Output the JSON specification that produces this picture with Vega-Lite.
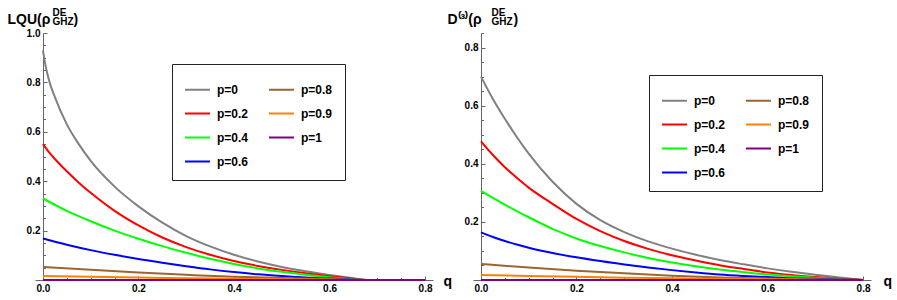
{
  "$schema": "https://vega.github.io/schema/vega-lite/v6.json",
  "padding": {"left": 7, "top": 7, "right": 4, "bottom": 4},
  "background": "white",
  "config": {
    "font": "Liberation Sans",
    "view": {"stroke": null},
    "axis": {
      "grid": false,
      "domainColor": "#666666",
      "domainWidth": 1,
      "tickColor": "#666666",
      "tickWidth": 1,
      "labelFont": "Liberation Sans",
      "labelFontSize": 10,
      "labelFontWeight": "bold",
      "labelColor": "black",
      "labelFlush": false,
      "labelOverlap": false,
      "titleFont": "Liberation Sans",
      "titleFontWeight": "bold",
      "titleColor": "black",
      "titleAngle": 0,
      "titleAlign": "left",
      "titleBaseline": "alphabetic"
    },
    "legend": {
      "orient": "none",
      "columns": 2,
      "symbolType": "stroke",
      "symbolSize": 625,
      "symbolStrokeWidth": 2,
      "labelFont": "Liberation Sans",
      "labelFontSize": 12,
      "labelFontWeight": "bold",
      "labelColor": "black",
      "labelOffset": 6,
      "columnPadding": 16,
      "rowPadding": 4,
      "padding": 12,
      "strokeColor": "#222222",
      "fillColor": "white"
    }
  },
  "datasets": {
    "lqu": [
      {"p": "p=0", "q": 0, "v": 0.93}, {"p": "p=0", "q": 0.005, "v": 0.872}, {"p": "p=0", "q": 0.0125, "v": 0.81}, {"p": "p=0", "q": 0.025, "v": 0.74}, {"p": "p=0", "q": 0.05, "v": 0.63}, {"p": "p=0", "q": 0.075, "v": 0.55}, {"p": "p=0", "q": 0.1, "v": 0.482}, {"p": "p=0", "q": 0.15, "v": 0.378}, {"p": "p=0", "q": 0.2, "v": 0.298}, {"p": "p=0", "q": 0.25, "v": 0.232}, {"p": "p=0", "q": 0.3, "v": 0.178}, {"p": "p=0", "q": 0.35, "v": 0.136}, {"p": "p=0", "q": 0.4, "v": 0.102}, {"p": "p=0", "q": 0.45, "v": 0.075}, {"p": "p=0", "q": 0.5, "v": 0.053}, {"p": "p=0", "q": 0.55, "v": 0.035}, {"p": "p=0", "q": 0.6, "v": 0.02}, {"p": "p=0", "q": 0.65, "v": 0.007}, {"p": "p=0", "q": 0.68, "v": 0}, {"p": "p=0", "q": 0.8, "v": 0},
      {"p": "p=0.2", "q": 0, "v": 0.55}, {"p": "p=0.2", "q": 0.01, "v": 0.524}, {"p": "p=0.2", "q": 0.025, "v": 0.49}, {"p": "p=0.2", "q": 0.05, "v": 0.44}, {"p": "p=0.2", "q": 0.075, "v": 0.394}, {"p": "p=0.2", "q": 0.1, "v": 0.353}, {"p": "p=0.2", "q": 0.15, "v": 0.28}, {"p": "p=0.2", "q": 0.2, "v": 0.221}, {"p": "p=0.2", "q": 0.25, "v": 0.172}, {"p": "p=0.2", "q": 0.3, "v": 0.133}, {"p": "p=0.2", "q": 0.35, "v": 0.102}, {"p": "p=0.2", "q": 0.4, "v": 0.077}, {"p": "p=0.2", "q": 0.45, "v": 0.057}, {"p": "p=0.2", "q": 0.5, "v": 0.041}, {"p": "p=0.2", "q": 0.55, "v": 0.027}, {"p": "p=0.2", "q": 0.6, "v": 0.015}, {"p": "p=0.2", "q": 0.65, "v": 0.005}, {"p": "p=0.2", "q": 0.68, "v": 0}, {"p": "p=0.2", "q": 0.8, "v": 0},
      {"p": "p=0.4", "q": 0, "v": 0.33}, {"p": "p=0.4", "q": 0.05, "v": 0.28}, {"p": "p=0.4", "q": 0.1, "v": 0.238}, {"p": "p=0.4", "q": 0.15, "v": 0.2}, {"p": "p=0.4", "q": 0.2, "v": 0.167}, {"p": "p=0.4", "q": 0.25, "v": 0.137}, {"p": "p=0.4", "q": 0.3, "v": 0.11}, {"p": "p=0.4", "q": 0.35, "v": 0.086}, {"p": "p=0.4", "q": 0.4, "v": 0.065}, {"p": "p=0.4", "q": 0.45, "v": 0.047}, {"p": "p=0.4", "q": 0.5, "v": 0.033}, {"p": "p=0.4", "q": 0.55, "v": 0.021}, {"p": "p=0.4", "q": 0.6, "v": 0.011}, {"p": "p=0.4", "q": 0.65, "v": 0.003}, {"p": "p=0.4", "q": 0.68, "v": 0}, {"p": "p=0.4", "q": 0.8, "v": 0},
      {"p": "p=0.6", "q": 0, "v": 0.168}, {"p": "p=0.6", "q": 0.05, "v": 0.143}, {"p": "p=0.6", "q": 0.1, "v": 0.121}, {"p": "p=0.6", "q": 0.15, "v": 0.102}, {"p": "p=0.6", "q": 0.2, "v": 0.085}, {"p": "p=0.6", "q": 0.25, "v": 0.07}, {"p": "p=0.6", "q": 0.3, "v": 0.056}, {"p": "p=0.6", "q": 0.35, "v": 0.043}, {"p": "p=0.6", "q": 0.4, "v": 0.032}, {"p": "p=0.6", "q": 0.45, "v": 0.023}, {"p": "p=0.6", "q": 0.5, "v": 0.016}, {"p": "p=0.6", "q": 0.55, "v": 0.01}, {"p": "p=0.6", "q": 0.6, "v": 0.006}, {"p": "p=0.6", "q": 0.65, "v": 0.002}, {"p": "p=0.6", "q": 0.68, "v": 0}, {"p": "p=0.6", "q": 0.8, "v": 0},
      {"p": "p=0.8", "q": 0, "v": 0.053}, {"p": "p=0.8", "q": 0.1, "v": 0.041}, {"p": "p=0.8", "q": 0.2, "v": 0.03}, {"p": "p=0.8", "q": 0.3, "v": 0.021}, {"p": "p=0.8", "q": 0.4, "v": 0.013}, {"p": "p=0.8", "q": 0.5, "v": 0.008}, {"p": "p=0.8", "q": 0.6, "v": 0.004}, {"p": "p=0.8", "q": 0.68, "v": 0}, {"p": "p=0.8", "q": 0.8, "v": 0},
      {"p": "p=0.9", "q": 0, "v": 0.016}, {"p": "p=0.9", "q": 0.1, "v": 0.013}, {"p": "p=0.9", "q": 0.2, "v": 0.01}, {"p": "p=0.9", "q": 0.3, "v": 0.007}, {"p": "p=0.9", "q": 0.4, "v": 0.005}, {"p": "p=0.9", "q": 0.5, "v": 0.003}, {"p": "p=0.9", "q": 0.6, "v": 0.001}, {"p": "p=0.9", "q": 0.68, "v": 0}, {"p": "p=0.9", "q": 0.8, "v": 0},
      {"p": "p=1", "q": 0, "v": 0}, {"p": "p=1", "q": 0.8, "v": 0}
    ],
    "d3": [
      {"p": "p=0", "q": 0, "v": 0.7}, {"p": "p=0", "q": 0.025, "v": 0.623}, {"p": "p=0", "q": 0.05, "v": 0.555}, {"p": "p=0", "q": 0.075, "v": 0.492}, {"p": "p=0", "q": 0.1, "v": 0.435}, {"p": "p=0", "q": 0.15, "v": 0.338}, {"p": "p=0", "q": 0.2, "v": 0.262}, {"p": "p=0", "q": 0.25, "v": 0.206}, {"p": "p=0", "q": 0.3, "v": 0.165}, {"p": "p=0", "q": 0.35, "v": 0.133}, {"p": "p=0", "q": 0.4, "v": 0.108}, {"p": "p=0", "q": 0.45, "v": 0.087}, {"p": "p=0", "q": 0.5, "v": 0.069}, {"p": "p=0", "q": 0.55, "v": 0.054}, {"p": "p=0", "q": 0.6, "v": 0.04}, {"p": "p=0", "q": 0.65, "v": 0.028}, {"p": "p=0", "q": 0.7, "v": 0.018}, {"p": "p=0", "q": 0.75, "v": 0.009}, {"p": "p=0", "q": 0.8, "v": 0},
      {"p": "p=0.2", "q": 0, "v": 0.477}, {"p": "p=0.2", "q": 0.025, "v": 0.43}, {"p": "p=0.2", "q": 0.05, "v": 0.388}, {"p": "p=0.2", "q": 0.075, "v": 0.352}, {"p": "p=0.2", "q": 0.1, "v": 0.318}, {"p": "p=0.2", "q": 0.15, "v": 0.262}, {"p": "p=0.2", "q": 0.2, "v": 0.21}, {"p": "p=0.2", "q": 0.25, "v": 0.168}, {"p": "p=0.2", "q": 0.3, "v": 0.134}, {"p": "p=0.2", "q": 0.35, "v": 0.107}, {"p": "p=0.2", "q": 0.4, "v": 0.085}, {"p": "p=0.2", "q": 0.45, "v": 0.067}, {"p": "p=0.2", "q": 0.5, "v": 0.051}, {"p": "p=0.2", "q": 0.55, "v": 0.038}, {"p": "p=0.2", "q": 0.6, "v": 0.026}, {"p": "p=0.2", "q": 0.65, "v": 0.017}, {"p": "p=0.2", "q": 0.7, "v": 0.01}, {"p": "p=0.2", "q": 0.75, "v": 0.004}, {"p": "p=0.2", "q": 0.8, "v": 0},
      {"p": "p=0.4", "q": 0, "v": 0.307}, {"p": "p=0.4", "q": 0.025, "v": 0.283}, {"p": "p=0.4", "q": 0.05, "v": 0.259}, {"p": "p=0.4", "q": 0.075, "v": 0.237}, {"p": "p=0.4", "q": 0.1, "v": 0.216}, {"p": "p=0.4", "q": 0.15, "v": 0.176}, {"p": "p=0.4", "q": 0.2, "v": 0.143}, {"p": "p=0.4", "q": 0.25, "v": 0.117}, {"p": "p=0.4", "q": 0.3, "v": 0.095}, {"p": "p=0.4", "q": 0.35, "v": 0.076}, {"p": "p=0.4", "q": 0.4, "v": 0.06}, {"p": "p=0.4", "q": 0.45, "v": 0.047}, {"p": "p=0.4", "q": 0.5, "v": 0.036}, {"p": "p=0.4", "q": 0.55, "v": 0.027}, {"p": "p=0.4", "q": 0.6, "v": 0.019}, {"p": "p=0.4", "q": 0.65, "v": 0.013}, {"p": "p=0.4", "q": 0.7, "v": 0.008}, {"p": "p=0.4", "q": 0.75, "v": 0.003}, {"p": "p=0.4", "q": 0.8, "v": 0},
      {"p": "p=0.6", "q": 0, "v": 0.164}, {"p": "p=0.6", "q": 0.025, "v": 0.148}, {"p": "p=0.6", "q": 0.05, "v": 0.134}, {"p": "p=0.6", "q": 0.075, "v": 0.122}, {"p": "p=0.6", "q": 0.1, "v": 0.111}, {"p": "p=0.6", "q": 0.15, "v": 0.093}, {"p": "p=0.6", "q": 0.2, "v": 0.078}, {"p": "p=0.6", "q": 0.25, "v": 0.065}, {"p": "p=0.6", "q": 0.3, "v": 0.053}, {"p": "p=0.6", "q": 0.35, "v": 0.043}, {"p": "p=0.6", "q": 0.4, "v": 0.034}, {"p": "p=0.6", "q": 0.45, "v": 0.026}, {"p": "p=0.6", "q": 0.5, "v": 0.019}, {"p": "p=0.6", "q": 0.55, "v": 0.014}, {"p": "p=0.6", "q": 0.6, "v": 0.01}, {"p": "p=0.6", "q": 0.65, "v": 0.006}, {"p": "p=0.6", "q": 0.7, "v": 0.004}, {"p": "p=0.6", "q": 0.75, "v": 0.002}, {"p": "p=0.6", "q": 0.8, "v": 0},
      {"p": "p=0.8", "q": 0, "v": 0.055}, {"p": "p=0.8", "q": 0.1, "v": 0.043}, {"p": "p=0.8", "q": 0.2, "v": 0.032}, {"p": "p=0.8", "q": 0.3, "v": 0.023}, {"p": "p=0.8", "q": 0.4, "v": 0.015}, {"p": "p=0.8", "q": 0.5, "v": 0.009}, {"p": "p=0.8", "q": 0.6, "v": 0.005}, {"p": "p=0.8", "q": 0.7, "v": 0.002}, {"p": "p=0.8", "q": 0.8, "v": 0},
      {"p": "p=0.9", "q": 0, "v": 0.017}, {"p": "p=0.9", "q": 0.1, "v": 0.014}, {"p": "p=0.9", "q": 0.2, "v": 0.011}, {"p": "p=0.9", "q": 0.3, "v": 0.008}, {"p": "p=0.9", "q": 0.4, "v": 0.006}, {"p": "p=0.9", "q": 0.5, "v": 0.004}, {"p": "p=0.9", "q": 0.6, "v": 0.003}, {"p": "p=0.9", "q": 0.7, "v": 0.001}, {"p": "p=0.9", "q": 0.8, "v": 0},
      {"p": "p=1", "q": 0, "v": 0}, {"p": "p=1", "q": 0.8, "v": 0}
    ]
  },
  "hconcat": [
    {
      "width": 398,
      "height": 247,
      "data": {"name": "lqu"},
      "layer": [
        {
          "mark": {"type": "line", "strokeWidth": 2, "interpolate": "monotone"},
          "encoding": {
            "x": {
              "field": "q", "type": "quantitative",
              "scale": {"domain": [-0.01667, 0.81667], "nice": false, "zero": false},
              "axis": {
                "orient": "bottom",
                "values": [0, 0.05, 0.1, 0.15, 0.2, 0.25, 0.3, 0.35, 0.4, 0.45, 0.5, 0.55, 0.6, 0.65, 0.7, 0.75, 0.8],
                "labelExpr": "abs(datum.value*5-round(datum.value*5))<0.001 ? format(datum.value,'.1f') : ''",
                "tickSize": {"condition": {"test": "abs(datum.value*5-round(datum.value*5))<0.001", "value": -4}, "value": -2.5},
                "labelPadding": 7,
                "title": "q",
                "titleFontSize": 14,
                "titleX": 408,
                "titleY": 5
              }
            },
            "y": {
              "field": "v", "type": "quantitative",
              "scale": {"domain": [0, 1], "nice": false},
              "axis": {
                "orient": "left",
                "values": [0, 0.05, 0.1, 0.15, 0.2, 0.25, 0.3, 0.35, 0.4, 0.45, 0.5, 0.55, 0.6, 0.65, 0.7, 0.75, 0.8, 0.85, 0.9, 0.95, 1],
                "labelExpr": "datum.value > 0.01 && abs(datum.value*5-round(datum.value*5))<0.001 ? format(datum.value,'.1f') : ''",
                "tickSize": {"condition": {"test": "abs(datum.value*5-round(datum.value*5))<0.001", "value": -4}, "value": -2.5},
                "labelPadding": 7,
                "offset": -8,
                "title": ["DE", "GHZ"],
                "titleFontSize": 10,
                "titleLineHeight": 9,
                "titleX": 9,
                "titleY": -18
              }
            },
            "color": {
              "field": "p", "type": "nominal",
              "scale": {
                "domain": ["p=0", "p=0.2", "p=0.4", "p=0.6", "p=0.8", "p=0.9", "p=1"],
                "range": ["#808080", "#ff0000", "#00ff00", "#0000ff", "#996633", "#ff8000", "#800080"]
              },
              "legend": {"title": null, "legendX": 137, "legendY": 31}
            }
          }
        },
        {
          "mark": {"type": "line", "opacity": 0},
          "encoding": {
            "x": {
              "field": "q", "type": "quantitative",
              "scale": {"domain": [-0.01667, 0.81667], "nice": false, "zero": false},
              "axis": {"orient": "top", "labels": false, "ticks": false, "domain": false, "title": "LQU(ρ", "titleFontSize": 14, "titleX": -28, "titleY": -10}
            },
            "y": {
              "field": "v", "type": "quantitative",
              "scale": {"domain": [0, 1], "nice": false},
              "axis": {"orient": "right", "labels": false, "ticks": false, "domain": false, "title": ")", "titleFontSize": 14, "titleX": -360, "titleY": -10}
            }
          }
        }
      ],
      "resolve": {"axis": {"x": "independent", "y": "independent"}}
    },
    {
      "width": 398,
      "height": 247,
      "data": {"name": "d3"},
      "layer": [
        {
          "mark": {"type": "line", "strokeWidth": 2, "interpolate": "monotone"},
          "encoding": {
            "x": {
              "field": "q", "type": "quantitative",
              "scale": {"domain": [-0.01667, 0.81667], "nice": false, "zero": false},
              "axis": {
                "orient": "bottom",
                "values": [0, 0.05, 0.1, 0.15, 0.2, 0.25, 0.3, 0.35, 0.4, 0.45, 0.5, 0.55, 0.6, 0.65, 0.7, 0.75, 0.8],
                "labelExpr": "abs(datum.value*5-round(datum.value*5))<0.001 ? format(datum.value,'.1f') : ''",
                "tickSize": {"condition": {"test": "abs(datum.value*5-round(datum.value*5))<0.001", "value": -4}, "value": -2.5},
                "labelPadding": 7,
                "title": "q",
                "titleFontSize": 14,
                "titleX": 410,
                "titleY": 5
              }
            },
            "y": {
              "field": "v", "type": "quantitative",
              "scale": {"domain": [0, 0.85], "nice": false},
              "axis": {
                "orient": "left",
                "values": [0, 0.05, 0.1, 0.15, 0.2, 0.25, 0.3, 0.35, 0.4, 0.45, 0.5, 0.55, 0.6, 0.65, 0.7, 0.75, 0.8, 0.85],
                "labelExpr": "datum.value > 0.01 && abs(datum.value*5-round(datum.value*5))<0.001 ? format(datum.value,'.1f') : ''",
                "tickSize": {"condition": {"test": "abs(datum.value*5-round(datum.value*5))<0.001", "value": -4}, "value": -2.5},
                "labelPadding": 7,
                "offset": -8,
                "title": ["DE", "GHZ"],
                "titleFontSize": 10,
                "titleLineHeight": 9,
                "titleX": 10,
                "titleY": -18
              }
            },
            "color": {
              "field": "p", "type": "nominal",
              "scale": {
                "domain": ["p=0", "p=0.2", "p=0.4", "p=0.6", "p=0.8", "p=0.9", "p=1"],
                "range": ["#808080", "#ff0000", "#00ff00", "#0000ff", "#996633", "#ff8000", "#800080"]
              },
              "legend": {"title": null, "legendX": 176, "legendY": 42}
            }
          }
        },
        {
          "mark": {"type": "line", "opacity": 0},
          "encoding": {
            "x": {
              "field": "q", "type": "quantitative",
              "scale": {"domain": [-0.01667, 0.81667], "nice": false, "zero": false},
              "axis": {"orient": "top", "labels": false, "ticks": false, "domain": false, "title": "D\u207D\u00B3\u207E(ρ", "titleFontSize": 14, "titleX": -26, "titleY": -10}
            },
            "y": {
              "field": "v", "type": "quantitative",
              "scale": {"domain": [0, 0.85], "nice": false},
              "axis": {"orient": "right", "labels": false, "ticks": false, "domain": false, "title": ")", "titleFontSize": 14, "titleX": -358, "titleY": -10}
            }
          }
        }
      ],
      "resolve": {"axis": {"x": "independent", "y": "independent"}}
    }
  ],
  "spacing": 40,
  "bounds": "flush",
  "resolve": {"scale": {"color": "independent"}, "legend": {"color": "independent"}}
}
